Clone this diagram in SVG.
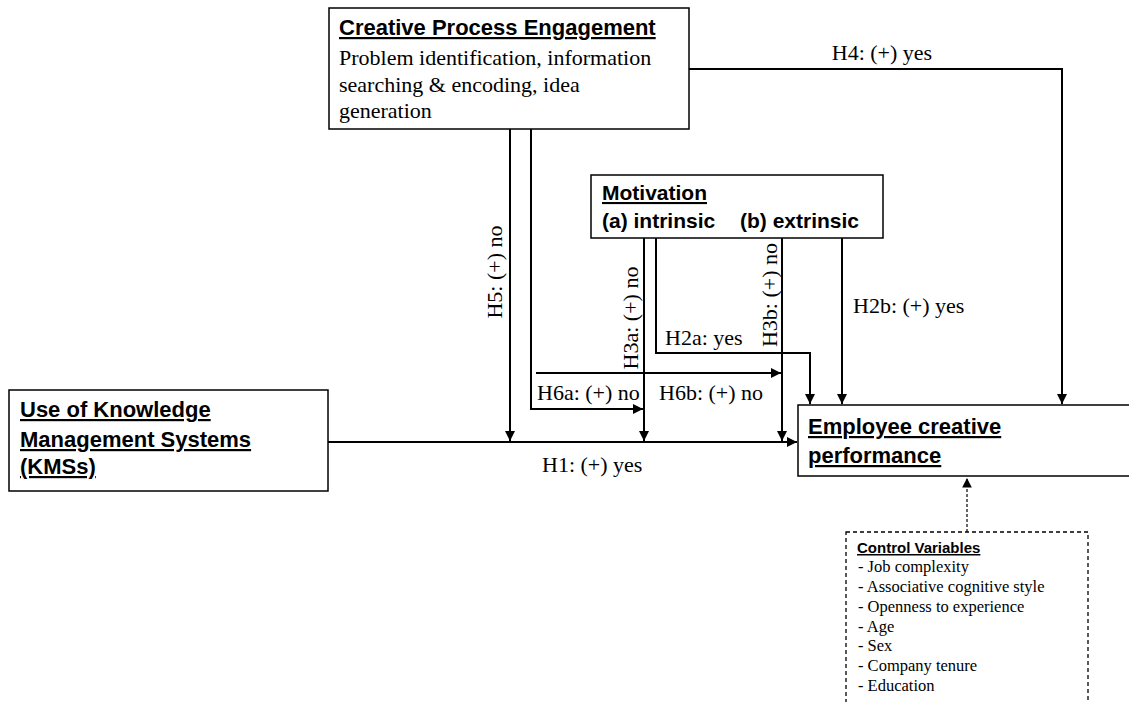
<svg xmlns="http://www.w3.org/2000/svg" width="1129" height="702" viewBox="0 0 1129 702">
  <style>
    .box { fill: #fff; stroke: #000; stroke-width: 1.5; }
    .dbox { fill: #fff; stroke: #000; stroke-width: 1.3; stroke-dasharray: 4 3; }
    .title { font-family: "Liberation Sans", Arial, sans-serif; font-weight: bold; font-size: 22px; text-decoration: underline; fill: #000; }
    .sub { font-family: "Liberation Sans", Arial, sans-serif; font-weight: bold; font-size: 21px; fill: #000; }
    .body { font-family: "Liberation Serif", "Times New Roman", serif; font-size: 22px; fill: #000; }
    .lbl { font-family: "Liberation Serif", "Times New Roman", serif; font-size: 22px; fill: #000; }
    .small { font-family: "Liberation Serif", "Times New Roman", serif; font-size: 16.5px; fill: #000; }
    .stitle { font-family: "Liberation Sans", Arial, sans-serif; font-weight: bold; font-size: 15px; text-decoration: underline; fill: #000; }
    .wire { fill: none; stroke: #000; stroke-width: 2; }
    .dwire { fill: none; stroke: #000; stroke-width: 1.2; stroke-dasharray: 3 2; }
  </style>
  <defs>
    <marker id="arrow" viewBox="0 0 10 10" refX="10" refY="5" markerWidth="5" markerHeight="5" orient="auto" markerUnits="strokeWidth">
      <path d="M0,0 L10,5 L0,10 z" fill="#000"/>
    </marker>
    <marker id="arrowThin" viewBox="0 0 10 10" refX="10" refY="5" markerWidth="8" markerHeight="8" orient="auto" markerUnits="strokeWidth">
      <path d="M0,0 L10,5 L0,10 z" fill="#000"/>
    </marker>
  </defs>
  <rect width="1129" height="702" fill="#fff"/>

  <!-- connectors -->
  <g id="connectors">
    <!-- H1: KMS to performance -->
    <path class="wire" d="M328,442 H797" marker-end="url(#arrow)"/>
    <!-- H4: engagement to performance -->
    <path class="wire" d="M689,69 H1062 V404" marker-end="url(#arrow)"/>
    <!-- H5 -->
    <path class="wire" d="M510,129 V441" marker-end="url(#arrow)"/>
    <!-- H6a -->
    <path class="wire" d="M531,129 V409 H643" marker-end="url(#arrow)"/>
    <!-- H6b -->
    <path class="wire" d="M536,373 H781" marker-end="url(#arrow)"/>
    <!-- H3a -->
    <path class="wire" d="M644,238 V441" marker-end="url(#arrow)"/>
    <!-- H2a -->
    <path class="wire" d="M656,238 V353 H810 V404" marker-end="url(#arrow)"/>
    <!-- H3b -->
    <path class="wire" d="M782,238 V441" marker-end="url(#arrow)"/>
    <!-- H2b -->
    <path class="wire" d="M842,238 V404" marker-end="url(#arrow)"/>
    <!-- controls -->
    <path class="dwire" d="M967,532 V478" marker-end="url(#arrowThin)"/>

    <!-- connector labels -->
    <text class="lbl" x="882" y="60" text-anchor="middle">H4: (+) yes</text>
    <text class="lbl" transform="translate(502,272) rotate(-90)" text-anchor="middle">H5: (+) no</text>
    <text class="lbl" transform="translate(638,318) rotate(-90)" text-anchor="middle">H3a: (+) no</text>
    <text class="lbl" transform="translate(777,295) rotate(-90)" text-anchor="middle">H3b: (+) no</text>
    <text class="lbl" x="665" y="345">H2a: yes</text>
    <text class="lbl" x="853" y="313">H2b: (+) yes</text>
    <text class="lbl" x="537" y="400">H6a: (+) no</text>
    <text class="lbl" x="659" y="400">H6b: (+) no</text>
    <text class="lbl" x="542" y="472">H1: (+) yes</text>
  </g>

  <!-- creative process engagement -->
  <g id="engagement">
    <rect class="box" x="329" y="8" width="360" height="121"/>
    <text class="title" x="339" y="35">Creative Process Engagement</text>
    <text class="body" x="339" y="65">Problem identification, information</text>
    <text class="body" x="339" y="92">searching &amp; encoding, idea</text>
    <text class="body" x="339" y="118">generation</text>
  </g>

  <!-- motivation -->
  <g id="motivation">
    <rect class="box" x="591" y="175" width="292" height="63"/>
    <text class="sub" x="602" y="200" text-decoration="underline">Motivation</text>
    <text class="sub" x="602" y="228">(a) intrinsic</text>
    <text class="sub" x="740" y="228">(b) extrinsic</text>
  </g>

  <!-- KMS use -->
  <g id="kms">
    <rect class="box" x="9" y="390" width="319" height="101"/>
    <text class="title" x="20" y="417">Use of Knowledge</text>
    <text class="title" x="20" y="447">Management Systems</text>
    <text class="title" x="20" y="474">(KMSs)</text>
  </g>

  <!-- outcome -->
  <g id="performance">
    <rect class="box" x="798" y="405" width="340" height="71"/>
    <text class="title" x="808" y="434">Employee creative</text>
    <text class="title" x="808" y="463">performance</text>
  </g>

  <!-- controls -->
  <g id="controls">
    <rect class="dbox" x="846" y="532" width="242" height="190"/>
    <text class="stitle" x="857" y="553">Control Variables</text>
    <text class="small" x="858" y="572">- Job complexity</text>
    <text class="small" x="858" y="592">- Associative cognitive style</text>
    <text class="small" x="858" y="612">- Openness to experience</text>
    <text class="small" x="858" y="632">- Age</text>
    <text class="small" x="858" y="651">- Sex</text>
    <text class="small" x="858" y="671">- Company tenure</text>
    <text class="small" x="858" y="691">- Education</text>
  </g>
</svg>
